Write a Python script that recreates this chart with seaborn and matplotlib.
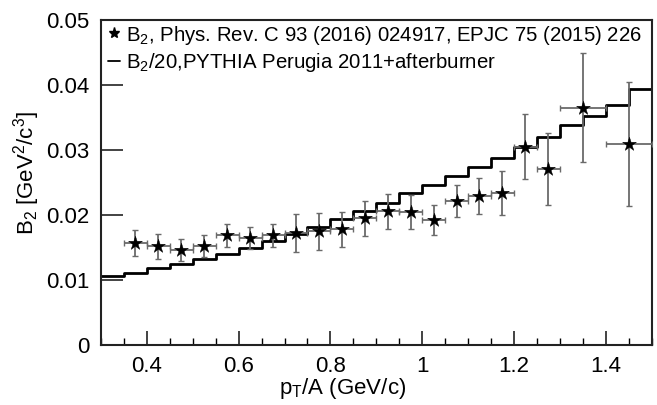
import numpy as np
import matplotlib
matplotlib.use("Agg")
import matplotlib.pyplot as plt
from matplotlib.lines import Line2D
from matplotlib.ticker import MultipleLocator
import seaborn as sns

# measured B2 points (bin centres, half widths, values, stat errors)
pt_centers = [0.375, 0.425, 0.475, 0.525, 0.575, 0.625, 0.675, 0.725, 0.775, 0.825,
              0.875, 0.925, 0.975, 1.025, 1.075, 1.125, 1.175, 1.225, 1.275, 1.35, 1.45]
pt_halfwidth = [0.025] * 19 + [0.05, 0.05]
b2_values = [0.0157, 0.0152, 0.0146, 0.0152, 0.0169, 0.0165, 0.0169, 0.0172, 0.0175, 0.0178,
             0.0195, 0.0206, 0.0205, 0.0192, 0.0222, 0.0229, 0.0234, 0.0305, 0.0271, 0.0365, 0.0309]
b2_errors = [0.0020, 0.0019, 0.0017, 0.0017, 0.0018, 0.0017, 0.0018, 0.0029, 0.0028, 0.0027,
             0.0027, 0.0027, 0.0026, 0.0023, 0.0025, 0.0028, 0.0034, 0.0050, 0.0056, 0.0084, 0.0095]

# PYTHIA B2/20 histogram, 0.05 wide bins from 0.3 to 1.5
pythia_edges = [round(0.3 + 0.05 * i, 2) for i in range(25)]
pythia_b2 = [0.01062, 0.01113, 0.01180, 0.01246, 0.01323, 0.01405, 0.01497, 0.01600,
             0.01708, 0.01820, 0.01938, 0.02067, 0.02185, 0.02333, 0.02462, 0.02600,
             0.02744, 0.02882, 0.03051, 0.03205, 0.03385, 0.03523, 0.03697, 0.03933]

sns.set_theme(style="ticks")
plt.rcParams["font.family"] = ["Liberation Sans", "DejaVu Sans"]
plt.rcParams["mathtext.fontset"] = "custom"
plt.rcParams["mathtext.rm"] = "Liberation Sans"
plt.rcParams["mathtext.it"] = "Liberation Sans"
plt.rcParams["mathtext.bf"] = "Liberation Sans:bold"
for key in ["text.color", "axes.labelcolor", "xtick.color", "ytick.color"]:
    plt.rcParams[key] = "black"

fig = plt.figure(figsize=(6.57, 4.05), dpi=100)
ax = fig.add_axes([0.1537, 0.148, 0.838, 0.8025])

centers = [(a + b) / 2 for a, b in zip(pythia_edges[:-1], pythia_edges[1:])]
sns.histplot(x=centers, weights=pythia_b2, bins=pythia_edges, element="step", fill=False,
             color="black", linewidth=2.0, ax=ax)

ax.errorbar(pt_centers, b2_values, xerr=pt_halfwidth, yerr=b2_errors, fmt="none",
            ecolor="#6a6a6a", elinewidth=1.3, capsize=2.2, capthick=1.0, zorder=3)
sns.scatterplot(x=pt_centers, y=b2_values, marker="*", s=110, color="black",
                edgecolor="black", linewidth=0.3, ax=ax, zorder=4)

ax.set_xlim(0.3, 1.5)
ax.set_ylim(0, 0.05)
ax.xaxis.set_major_locator(MultipleLocator(0.2))
ax.xaxis.set_minor_locator(MultipleLocator(0.05))
ax.yaxis.set_major_locator(MultipleLocator(0.01))
ax.set_xticks([0.4, 0.6, 0.8, 1.0, 1.2, 1.4])
ax.set_xticklabels(["0.4", "0.6", "0.8", "1", "1.2", "1.4"])
ax.set_yticks([0, 0.01, 0.02, 0.03, 0.04, 0.05])
ax.set_yticklabels(["0", "0.01", "0.02", "0.03", "0.04", "0.05"])
ax.tick_params(axis="both", direction="in", labelsize=16, color="#222222", labelcolor="black", width=1.2)
ax.tick_params(axis="x", which="major", length=10, pad=8)
ax.tick_params(axis="x", which="minor", length=5, width=1.0, direction="in")
ax.tick_params(axis="y", which="major", length=16, pad=8)
for sp in ax.spines.values():
    sp.set_linewidth(1.5)
    sp.set_color("#222222")

ax.set_xlabel(r"p$_{T}$/A (GeV/c)", fontsize=16, color="black")
ax.set_ylabel(r"B$_2$ [GeV$^2$/c$^3$]", fontsize=16, color="black")
ax.xaxis.set_label_coords(0.438, -0.095)
ax.yaxis.set_label_coords(-0.108, 0.53)

handles = [
    Line2D([], [], marker="*", linestyle="none", color="black", markersize=8),
    Line2D([], [], color="black", linewidth=1.3),
]
labels = [
    r"B$_2$, Phys. Rev. C 93 (2016) 024917, EPJC 75 (2015) 226",
    r"B$_2$/20,PYTHIA Perugia 2011+afterburner",
]
leg = ax.legend(handles, labels, loc="upper left", bbox_to_anchor=(-0.01, 1.027), frameon=False,
                fontsize=14.7, handlelength=0.6, handletextpad=0.3, labelspacing=0.22,
                borderaxespad=0.2)
for t in leg.get_texts():
    t.set_color("black")

fig.savefig("out.png", dpi=100)
